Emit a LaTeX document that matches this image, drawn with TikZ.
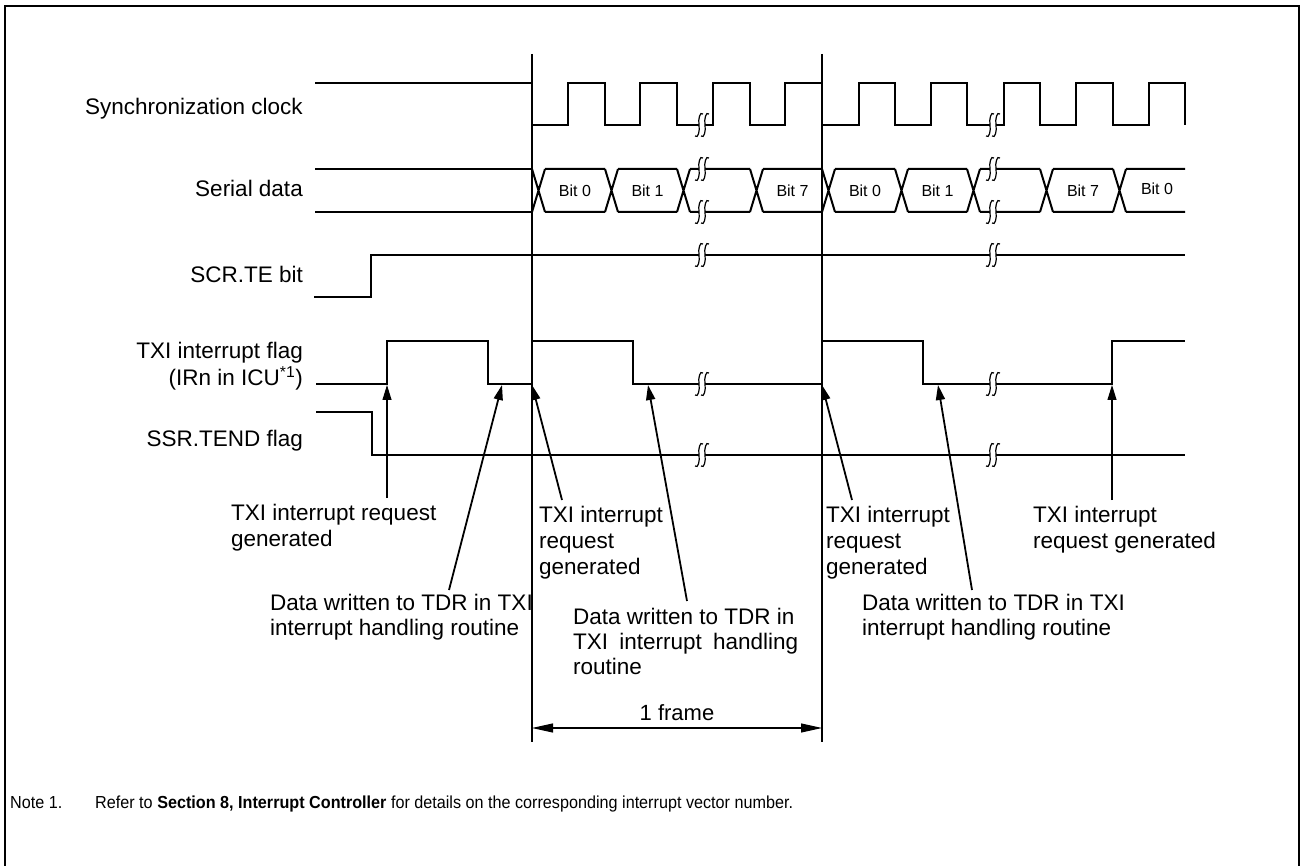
\documentclass[tikz,border=0pt]{standalone}
\usepackage{fontspec}
\setmainfont{Liberation Sans}
\newfontfamily\notefont[FakeStretch=0.93]{Liberation Sans}
\usetikzlibrary{arrows.meta}
\newcommand\wavebreak[2]{%
  \fill[white] ({#1-7},{#2+11}) .. controls ({#1-4},{#2+14}) and ({#1-2},{#2+6}) .. ({#1-3},{#2})
     .. controls ({#1-4},{#2-6}) and ({#1-2},{#2-14}) .. ({#1+1},{#2-11})
     -- ({#1+7},{#2-11}) .. controls ({#1+4},{#2-14}) and ({#1+2},{#2-6}) .. ({#1+3},{#2})
     .. controls ({#1+4},{#2+6}) and ({#1+2},{#2+14}) .. ({#1-1},{#2+11}) -- cycle;
  \draw[brk] ({#1-7},{#2+11}) .. controls ({#1-4},{#2+14}) and ({#1-2},{#2+6}) .. ({#1-3},{#2})
     .. controls ({#1-4},{#2-6}) and ({#1-2},{#2-14}) .. ({#1+1},{#2-11});
  \draw[brk] ({#1-1},{#2+11}) .. controls ({#1+2},{#2+14}) and ({#1+4},{#2+6}) .. ({#1+3},{#2})
     .. controls ({#1+2},{#2-6}) and ({#1+4},{#2-14}) .. ({#1+7},{#2-11});
}
\begin{document}
\begin{tikzpicture}[x=1pt,y=-1pt,
  wave/.style={line width=2pt,line join=miter},
  brk/.style={line width=1.2pt},
  marker/.style={line width=1.1pt},
  ann/.style={line width=1.8pt,-{Triangle[length=15pt,width=9pt]}},
  annv/.style={line width=1.1pt,-{Triangle[length=15pt,width=9pt]}},
  dim/.style={line width=1.1pt,{Triangle[length=21pt,width=9pt]}-{Triangle[length=21pt,width=9pt]}},
  lab/.style={font=\fontsize{22.5}{25.5}\selectfont,inner sep=0pt},
  bitlab/.style={font=\fontsize{16}{19}\selectfont,inner sep=0pt},
  notelab/.style={font=\notefont\fontsize{17.4}{20}\selectfont,inner sep=0pt,anchor=base west}]
\useasboundingbox (0,0) rectangle (1301,866);
% frame
\draw[line width=2.5pt] (5,866) -- (5,6) -- (1299,6) -- (1299,866);

% row labels
\node[lab,anchor=base east] (lclk) at (303,115) {Synchronization clock};
\node[lab,anchor=base east] (ldat) at (303,197) {Serial data};
\node[lab,anchor=base east] (lte) at (303,283) {SCR.TE bit};
\node[lab,anchor=base east] (ltxa) at (303,359) {TXI interrupt flag};
\node[lab,anchor=base east] (ltxb) at (303,385) {(IRn in ICU\textsuperscript{*1})};
\node[lab,anchor=base east] (lend) at (303,446) {SSR.TEND flag};

% frame markers
\draw[marker] (532,54) -- (532,742);
\draw[marker] (822,54) -- (822,742);

% clock
\draw[wave] (315,83) -- (532,83) -- (532,125) -- (568,125) -- (568,83) -- (605,83) -- (605,125)
  -- (640,125) -- (640,83) -- (677,83) -- (677,125) -- (713,125) -- (713,83) -- (750,83)
  -- (750,125) -- (785,125) -- (785,83) -- (822,83) -- (822,125) -- (859,125) -- (859,83)
  -- (895,83) -- (895,125) -- (931,125) -- (931,83) -- (967,83) -- (967,125) -- (1004,125)
  -- (1004,83) -- (1040,83) -- (1040,125) -- (1076,125) -- (1076,83) -- (1113,83) -- (1113,125)
  -- (1149,125) -- (1149,83) -- (1185,83) -- (1185,125);

% serial data
\draw[wave] (315,169) -- (532,169) (315,212) -- (532,212);
\foreach \t/\n in {532/605,605/677,677/750,750/822,822/895,895/967,967/1040,1040/1113,1113/1185}{
  \draw[wave] (\t,169) -- ({\t+13},212) (\t,212) -- ({\t+13},169)
    ({\t+13},169) -- (\n,169) ({\t+13},212) -- (\n,212);
}
\node[bitlab] (b0) at (575,191) {Bit 0};
\node[bitlab] (b1) at (647.5,191) {Bit 1};
\node[bitlab] (b7) at (792.5,191) {Bit 7};
\node[bitlab] (c0) at (865,191) {Bit 0};
\node[bitlab] (c1) at (937.5,191) {Bit 1};
\node[bitlab] (c7) at (1083,191) {Bit 7};
\node[bitlab] (d0) at (1157,189) {Bit 0};

% SCR.TE
\draw[wave] (314,297) -- (371,297) -- (371,255) -- (1185,255);
% TXI
\draw[wave] (316,384) -- (387,384) -- (387,341) -- (488,341) -- (488,384) -- (532,384) -- (532,341)
  -- (633,341) -- (633,384) -- (822,384) -- (822,341) -- (923,341) -- (923,384) -- (1112,384)
  -- (1112,341) -- (1185,341);
% TEND
\draw[wave] (316,412) -- (372,412) -- (372,455) -- (1185,455);

% breaks
\foreach \bx in {702,993}{
  \wavebreak{\bx}{125}
  \wavebreak{\bx}{169}
  \wavebreak{\bx}{212}
  \wavebreak{\bx}{255}
  \wavebreak{\bx}{384}
  \wavebreak{\bx}{455}
}

% annotation labels
\node[lab,anchor=base west] (r1a) at (231,520) {TXI interrupt request};
\node[lab,anchor=base west] (r1b) at (231,546) {generated};
\node[lab,anchor=base west] (w1a) at (270,610) {Data written to TDR in TXI};
\node[lab,anchor=base west] (w1b) at (270,635) {interrupt handling routine};
\node[lab,anchor=base west] (r2a) at (539,522) {TXI interrupt};
\node[lab,anchor=base west] (r2b) at (539,548) {request};
\node[lab,anchor=base west] (r2c) at (539,574) {generated};
\node[lab,anchor=base west] (w2a) at (573,624) {Data written to TDR in};
\node[lab,anchor=base west] (w2b) at (573,649) {\makebox[225pt][s]{TXI interrupt handling}};
\node[lab,anchor=base west] (w2c) at (573,674) {routine};
\node[lab,anchor=base west] (r3a) at (826,522) {TXI interrupt};
\node[lab,anchor=base west] (r3b) at (826,548) {request};
\node[lab,anchor=base west] (r3c) at (826,574) {generated};
\node[lab,anchor=base west] (w3a) at (862,610) {Data written to TDR in TXI};
\node[lab,anchor=base west] (w3b) at (862,635) {interrupt handling routine};
\node[lab,anchor=base west] (r4a) at (1033,522) {TXI interrupt};
\node[lab,anchor=base west] (r4b) at (1033,548) {request generated};

% arrow coordinates
\coordinate (t1) at (387,385); \coordinate (s1) at (387,498);
\coordinate (t2) at (502,385); \coordinate (s2) at (449,590);
\coordinate (t3) at (532,385); \coordinate (s3) at (562,500);
\coordinate (t4) at (648,385); \coordinate (s4) at (687,601);
\coordinate (t5) at (822,385); \coordinate (s5) at (852,500);
\coordinate (t6) at (938,385); \coordinate (s6) at (972,590);
\coordinate (t7) at (1112,385); \coordinate (s7) at (1112,500);
\draw[annv] (s1) -- (t1);
\draw[ann] (s2) -- (t2);
\draw[ann] (s3) -- (t3);
\draw[ann] (s4) -- (t4);
\draw[ann] (s5) -- (t5);
\draw[ann] (s6) -- (t6);
\draw[annv] (s7) -- (t7);

% 1 frame
\coordinate (fa) at (532,728); \coordinate (fb) at (822,728);
\draw[dim] (fa) -- (fb);
\node[lab,font=\fontsize{22}{25}\selectfont] (frm) at (677,713) {1 frame};

% note
\node[notelab] (n1) at (10,808) {Note 1.};
\node[notelab] (n2) at (95,808) {Refer to \textbf{Section 8, Interrupt Controller} for details on the corresponding interrupt vector number.};
\end{tikzpicture}
\end{document}
